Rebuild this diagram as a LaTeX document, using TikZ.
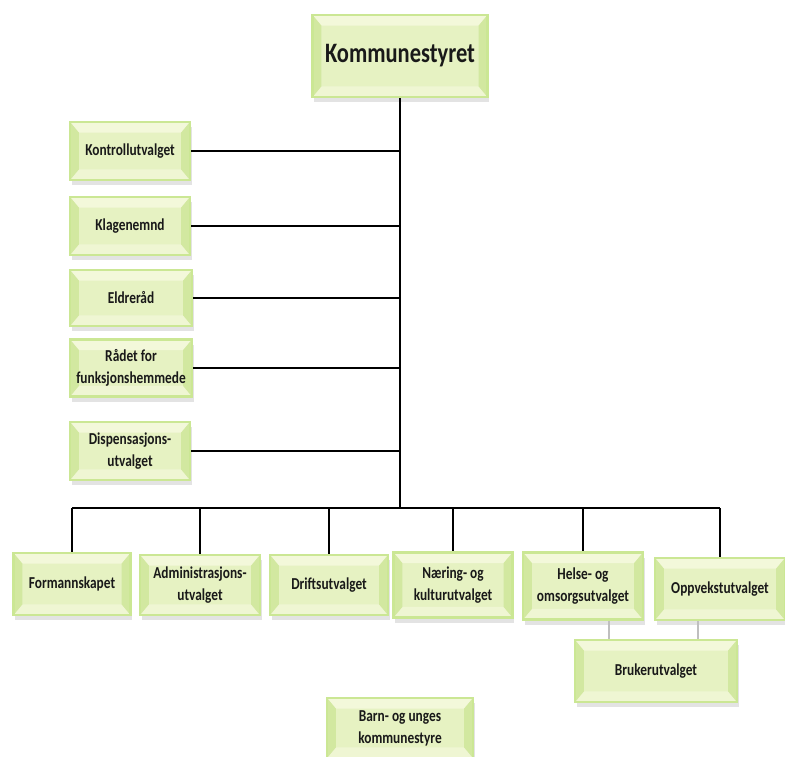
\documentclass[tikz,border=0pt]{standalone}
\usepackage{fontspec}
\newfontfamily\orgfont{Carlito}[FakeStretch=0.8]
\usetikzlibrary{shadows}

\definecolor{boxface}{HTML}{E6F2C2}
\definecolor{boxside}{HTML}{D2E8A0}
\definecolor{boxtop}{HTML}{F3F8DA}
\definecolor{boxedge}{HTML}{CBE794}

\tikzset{
  orgbox/.style={draw=boxedge, line width=1.2pt, fill=boxface, align=center,
    inner sep=0pt, text=black!90,
    font=\orgfont\bfseries\fontsize{9.5}{12.5}\selectfont,
    drop shadow={opacity=0.22, shadow xshift=1pt, shadow yshift=-3pt},
    path picture={
      \path (path picture bounding box.south west) coordinate (bsw)
            (path picture bounding box.north east) coordinate (bne);
      \fill[boxtop] (bsw |- bne) -- (bne) -- ([shift={(-5pt,-6pt)}]bne)
        -- ([shift={(5pt,-6pt)}]bsw |- bne) -- cycle;
      \fill[boxtop!70!boxface] (bsw) -- (bsw -| bne) -- ([shift={(-5pt,6pt)}]bsw -| bne)
        -- ([shift={(5pt,6pt)}]bsw) -- cycle;
      \fill[boxside] (bsw) -- (bsw |- bne) -- ([shift={(5pt,-6pt)}]bsw |- bne)
        -- ([shift={(5pt,6pt)}]bsw) -- cycle;
      \fill[boxside] (bne) -- (bsw -| bne) -- ([shift={(-5pt,6pt)}]bsw -| bne)
        -- ([shift={(-5pt,-6pt)}]bne) -- cycle;
    }},
  link/.style={draw=black, line width=0.9pt},
  sublink/.style={draw=black!25, line width=0.8pt}
}

\begin{document}
\begin{tikzpicture}[x=0.02cm, y=-0.02cm]
\useasboundingbox (0,0) rectangle (785,757);

% top
\node[orgbox, minimum width=3.5cm, minimum height=1.64cm,
  font=\orgfont\bfseries\fontsize{16}{20}\selectfont] (kstyre) at (400,56) {Kommunestyret};

% left column
\node[orgbox, minimum width=2.4cm, minimum height=1.16cm] (kontroll) at (130,151) {Kontrollutvalget};
\node[orgbox, minimum width=2.4cm, minimum height=1.16cm] (klage) at (130,226) {Klagenemnd};
\node[orgbox, minimum width=2.44cm, minimum height=1.12cm] (eldre) at (131,298) {Eldreråd};
\node[orgbox, minimum width=2.44cm, minimum height=1.14cm] (raadet) at (131,368) {Rådet for\\funksjonshemmede};
\node[orgbox, minimum width=2.4cm, minimum height=1.16cm] (disp) at (130,451) {Dispensasjons-\\utvalget};

% bottom row
\node[orgbox, minimum width=2.34cm, minimum height=1.24cm] (form) at (72,584) {Formannskapet};
\node[orgbox, minimum width=2.4cm, minimum height=1.2cm] (adm) at (200,585) {Administrasjons-\\utvalget};
\node[orgbox, minimum width=2.36cm, minimum height=1.2cm] (drift) at (329,585) {Driftsutvalget};
\node[orgbox, minimum width=2.38cm, minimum height=1.3cm] (naering) at (453,585) {Næring- og\\kulturutvalget};
\node[orgbox, minimum width=2.4cm, minimum height=1.34cm] (helse) at (583,586) {Helse- og\\omsorgsutvalget};
\node[orgbox, minimum width=2.6cm, minimum height=1.24cm] (opp) at (720,589) {Oppvekstutvalget};
\node[orgbox, minimum width=3.24cm, minimum height=1.24cm] (bruker) at (656,671) {Brukerutvalget};
\node[orgbox, minimum width=2.92cm, minimum height=1.2cm] (barn) at (400,728) {Barn- og unges\\kommunestyre};

% lines
\coordinate (bus) at (400,508);
\draw[link] (kstyre.south) -- (bus);
\foreach \n in {kontroll,klage,eldre,raadet,disp}
  \draw[link] (\n.east) -- (\n.east -| kstyre.south);
\draw[link] (form.north |- bus) -- (opp.north |- bus);
\foreach \n in {form,adm,drift,naering,helse,opp}
  \draw[link] (\n.north |- bus) -- (\n.north);
\draw[sublink] ([xshift=0.52cm]helse.south) -- ([xshift=0.52cm]helse.south |- bruker.north);
\draw[sublink] ([xshift=-0.44cm]opp.south) -- ([xshift=-0.44cm]opp.south |- bruker.north);
\end{tikzpicture}
\end{document}
